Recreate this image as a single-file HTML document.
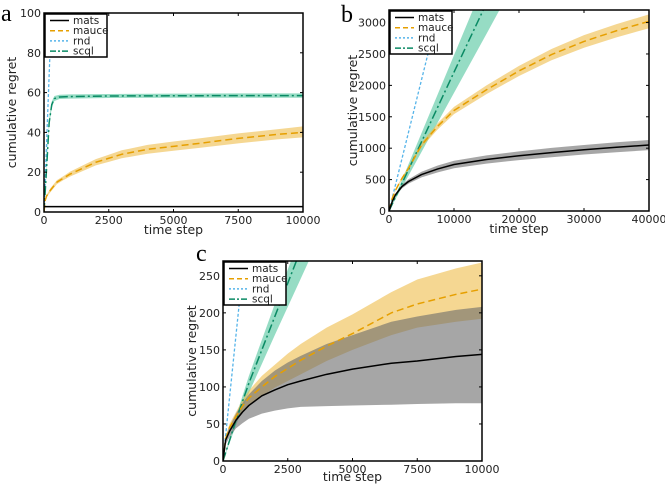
<!DOCTYPE html>
<html><head><meta charset="utf-8"><style>
html,body{margin:0;padding:0;background:#fff;width:665px;height:486px;overflow:hidden}
svg{display:block;font-family:"DejaVu Sans","Liberation Sans",sans-serif}
.tick{font-size:11px;fill:#222}
.lab{font-size:12.5px;fill:#222}
.panel{font-family:"Liberation Serif",serif;font-size:24px;fill:#000}
.leg{font-size:10.5px;fill:#222}
</style></head><body>
<svg id="fig" width="665" height="486"></svg>
<script>
// ---- Panel a data ----
const aMatsX=[0,10000], aMats=[2.7,2.7], aMatsLo=[2.4,2.4], aMatsHi=[3.0,3.0];
const aMauceX=[0,50,100,250,500,750,1000,1500,2000,2500,3000,4000,5000,6000,7500,9000,10000];
const aMauce=[0,6,8,11,15,17,19,22,25,27,29,31.5,33,34.5,37,39,40];
const aMauceLo=[0,5.5,7.5,10,14,16,17.8,20.6,23.4,25.2,27,29.3,30.8,32.2,34.5,36.5,37.5];
const aMauceHi=[0,6.5,8.5,12,16,18,20.2,23.4,26.6,28.8,31,33.7,35.4,37,39.5,41.6,43];
const aRndX=[0,300], aRnd=[0,104];
const aScqlX=[0,100,200,300,400,600,1000,2500,5000,7500,10000];
const aScql=[0,22,45,54,57,57.8,58,58.3,58.4,58.5,58.5];
const aScqlLo=[0,20,43,52.5,55.8,56.8,57,57.3,57.4,57.4,57.4];
const aScqlHi=[0,24,47,55.5,58.3,58.9,59.1,59.3,59.5,59.6,59.6];
const aXTicks=[0,2500,5000,7500,10000], aYTicks=[0,20,40,60,80,100];
// ---- Panel b data ----
const bX=[0,500,1000,2000,3000,5000,7500,10000,15000,20000,25000,30000,35000,40000];
const bMats=[0,150,260,390,470,580,670,740,820,880,930,975,1015,1050];
const bMatsLo=[0,140,240,360,435,535,615,680,755,810,855,900,935,970];
const bMatsHi=[0,160,280,420,505,625,725,800,885,950,1005,1050,1095,1130];
const bMauce=[0,200,330,520,680,1050,1350,1600,1930,2230,2490,2700,2870,3020];
const bMauceLo=[0,192,318,500,655,1012,1300,1542,1860,2150,2400,2600,2765,2910];
const bMauceHi=[0,208,342,540,705,1088,1400,1658,2000,2310,2580,2800,2975,3130];
const bRndX=[0,8000], bRnd=[0,3340];
const bScqlX=[0,5000,10000,15000,18000];
const bScql=[0,1100,2210,3310,3970];
const bScqlLo=[0,940,1880,2820,3390];
const bScqlHi=[0,1240,2480,3720,4470];
const bXTicks=[0,10000,20000,30000,40000], bYTicks=[0,500,1000,1500,2000,2500,3000];
// ---- Panel c data ----
const cX=[0,100,250,500,750,1000,1500,2000,2500,3000,4000,5000,6500,7500,9000,10000];
const cMats=[0,28,40,55,66,75,88,96,103,108,117,124,132,135,141,144];
const cMatsLo=[0,22,32,44,51,57,64,68,71,73,74,75,76,77,78,78];
const cMatsHi=[0,32,46,64,78,90,108,122,133,142,158,170,188,195,204,208];
const cMauce=[0,30,45,60,74,85,100,114,125,136,155,172,200,212,225,232];
const cMauceLo=[0,27,40,55,66,75,88,99,108,117,135,150,170,180,188,192];
const cMauceHi=[0,33,50,66,82,95,115,130,145,158,180,198,228,245,260,268];
const cRndX=[0,850], cRnd=[0,288];
const cScqlX=[0,500,1000,2000,3000,3600];
const cScql=[0,55,105,195,285,340];
const cScqlLo=[0,48,92,170,246,292];
const cScqlHi=[0,60,115,212,305,362];
const cXTicks=[0,2500,5000,7500,10000], cYTicks=[0,50,100,150,200,250];

const NS="http://www.w3.org/2000/svg";
const fig=document.getElementById('fig');
function mk(tag,attrs,parent){const e=document.createElementNS(NS,tag);for(const k in attrs)e.setAttribute(k,attrs[k]);(parent||fig).appendChild(e);return e;}
let clipN=0;
function panel(o){
  const g=mk('g',{});
  
  
  const sx=v=>o.x0+(v-o.xmin)/(o.xmax-o.xmin)*(o.x1-o.x0);
  const sy=v=>o.y0-(v-o.ymin)/(o.ymax-o.ymin)*(o.y0-o.y1);
  const cid='clip'+(clipN++);
  const cp=mk('clipPath',{id:cid},g);mk('rect',{x:o.x0,y:o.y1,width:o.x1-o.x0,height:o.y0-o.y1},cp);
  const pg=mk('g',{'clip-path':'url(#'+cid+')'},g);
  function band(xs,lo,hi,fill,op,name){
    let d='M'+xs.map((x,i)=>sx(x)+','+sy(hi[i])).join('L');
    for(let i=xs.length-1;i>=0;i--)d+='L'+sx(xs[i])+','+sy(lo[i]);
    const p=mk('path',{d:d+'Z',fill:fill,'fill-opacity':op},pg);
    
    
  }
  function line(xs,ys,stroke,dash,w,name){
    const p=mk('path',{d:'M'+xs.map((x,i)=>sx(x)+','+sy(ys[i])).join('L'),fill:'none',stroke:stroke,'stroke-width':w,'stroke-dasharray':dash,'stroke-linejoin':'round'},pg);
    
    
  }
  const s=o.s;
  band(s.scql[0],s.scql[2],s.scql[3],'#3fbf93',0.55,'scql-band');
  band(s.mauce[0],s.mauce[2],s.mauce[3],'#efbd4a',0.6,'mauce-band');
  band(s.mats[0],s.mats[2],s.mats[3],'#6a6a6a',0.6,'mats-band');
  line(s.rnd[0],s.rnd[1],'#56b4e9','3,2',1.3,'rnd-line');
  line(s.scql[0],s.scql[1],'#0a8a64','9,3,2,3',1.5,'scql-line');
  line(s.mauce[0],s.mauce[1],'#e69f00','7,4',1.5,'mauce-line');
  line(s.mats[0],s.mats[1],'#000','',1.5,'mats-line');
  o.xt.forEach(v=>{
    mk('line',{x1:sx(v),x2:sx(v),y1:o.y0,y2:o.y0-3,stroke:'#000'},g);
    mk('line',{x1:sx(v),x2:sx(v),y1:o.y1,y2:o.y1+3,stroke:'#000'},g);
    const t=mk('text',{x:sx(v),y:o.y0+12,'text-anchor':'middle',class:'tick'},g);t.textContent=v;
    
    
  });
  o.yt.forEach(v=>{
    mk('line',{x1:o.x0,x2:o.x0+3,y1:sy(v),y2:sy(v),stroke:'#000'},g);
    mk('line',{x1:o.x1,x2:o.x1-3,y1:sy(v),y2:sy(v),stroke:'#000'},g);
    const t=mk('text',{x:o.x0-3,y:sy(v)+4,'text-anchor':'end',class:'tick'},g);t.textContent=v;
    
    
  });
  mk('rect',{x:o.x0,y:o.y1,width:o.x1-o.x0,height:o.y0-o.y1,fill:'none',stroke:'#000','stroke-width':1.5},g);
  const xl=mk('text',{x:(o.x0+o.x1)/2,y:o.y0+o.xlo,'text-anchor':'middle',class:'lab'},g);xl.textContent='time step';
  
  
  const ylx=o.ylx, yly=(o.y0+o.y1)/2;
  const yl=mk('text',{x:ylx,y:yly,'text-anchor':'middle',class:'lab',transform:'rotate(-90 '+ylx+' '+yly+')'},g);yl.textContent='cumulative regret';
  
  
  const pl=mk('text',{x:o.lx,y:o.ly,class:'panel'},g);pl.textContent=o.id;
  
  
  const lg=mk('g',{},g);
  
  
  const lx=o.x0+1,ly=o.y1+1;
  mk('rect',{x:lx,y:ly,width:62,height:43,fill:'#fff',stroke:'#000','stroke-width':1.5},lg);
  const ents=[['mats','#000',''],['mauce','#e69f00','5,3'],['rnd','#56b4e9','2,2'],['scql','#0a8a64','6,2,2,2']];
  ents.forEach((e,i)=>{
    const yy=ly+6.5+i*10.2;
    mk('line',{x1:lx+5,x2:lx+24,y1:yy,y2:yy,stroke:e[1],'stroke-width':1.5,'stroke-dasharray':e[2]},lg);
    const t=mk('text',{x:lx+28,y:yy+3.5,class:'leg'},lg);t.textContent=e[0];
    
    
  });
}
panel({id:'a',x0:44,x1:303,y0:212,y1:13,xmin:0,xmax:10000,ymin:0,ymax:100,xt:aXTicks,yt:aYTicks,ylx:16,lx:1,ly:21,xlo:22,
 s:{mats:[aMatsX,aMats,aMatsLo,aMatsHi],mauce:[aMauceX,aMauce,aMauceLo,aMauceHi],rnd:[aRndX,aRnd],scql:[aScqlX,aScql,aScqlLo,aScqlHi]}});
panel({id:'b',x0:389,x1:649,y0:211,y1:10,xmin:0,xmax:40000,ymin:0,ymax:3200,xt:bXTicks,yt:bYTicks,ylx:357,lx:341,ly:22,xlo:22,
 s:{mats:[bX,bMats,bMatsLo,bMatsHi],mauce:[bX,bMauce,bMauceLo,bMauceHi],rnd:[bRndX,bRnd],scql:[bScqlX,bScql,bScqlLo,bScqlHi]}});
panel({id:'c',x0:223,x1:482,y0:461,y1:261,xmin:0,xmax:10000,ymin:0,ymax:270,xt:cXTicks,yt:cYTicks,ylx:196,lx:196,ly:261,xlo:20,
 s:{mats:[cX,cMats,cMatsLo,cMatsHi],mauce:[cX,cMauce,cMauceLo,cMauceHi],rnd:[cRndX,cRnd],scql:[cScqlX,cScql,cScqlLo,cScqlHi]}});
</script>
</body></html>
